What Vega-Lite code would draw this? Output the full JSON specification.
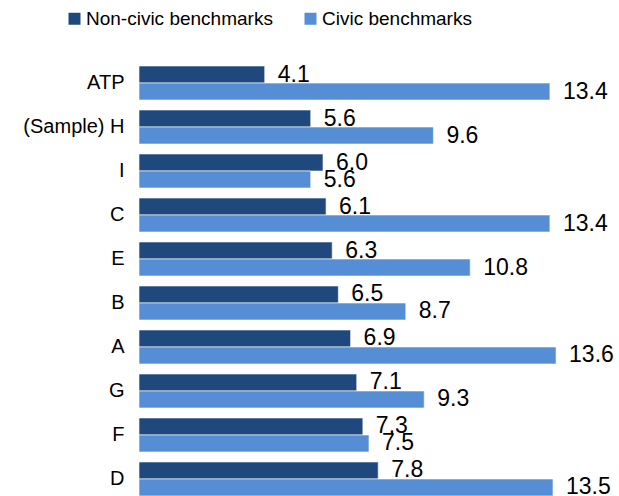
{
  "$schema": "https://vega.github.io/schema/vega-lite/v6.json",
  "width": 460,
  "height": 440,
  "autosize": {"type": "none"},
  "padding": {"left": 139, "top": 61, "right": 20, "bottom": 0},
  "config": {"view": {"stroke": null}, "font": "Liberation Sans"},
  "data": {
    "values": [
      {"cat": "ATP", "series": "Non-civic benchmarks", "value": 4.1},
      {"cat": "ATP", "series": "Civic benchmarks", "value": 13.4},
      {"cat": "(Sample) H", "series": "Non-civic benchmarks", "value": 5.6},
      {"cat": "(Sample) H", "series": "Civic benchmarks", "value": 9.6},
      {"cat": "I", "series": "Non-civic benchmarks", "value": 6.0},
      {"cat": "I", "series": "Civic benchmarks", "value": 5.6},
      {"cat": "C", "series": "Non-civic benchmarks", "value": 6.1},
      {"cat": "C", "series": "Civic benchmarks", "value": 13.4},
      {"cat": "E", "series": "Non-civic benchmarks", "value": 6.3},
      {"cat": "E", "series": "Civic benchmarks", "value": 10.8},
      {"cat": "B", "series": "Non-civic benchmarks", "value": 6.5},
      {"cat": "B", "series": "Civic benchmarks", "value": 8.7},
      {"cat": "A", "series": "Non-civic benchmarks", "value": 6.9},
      {"cat": "A", "series": "Civic benchmarks", "value": 13.6},
      {"cat": "G", "series": "Non-civic benchmarks", "value": 7.1},
      {"cat": "G", "series": "Civic benchmarks", "value": 9.3},
      {"cat": "F", "series": "Non-civic benchmarks", "value": 7.3},
      {"cat": "F", "series": "Civic benchmarks", "value": 7.5},
      {"cat": "D", "series": "Non-civic benchmarks", "value": 7.8},
      {"cat": "D", "series": "Civic benchmarks", "value": 13.5}
    ]
  },
  "encoding": {
    "y": {
      "field": "cat", "type": "nominal",
      "sort": ["ATP", "(Sample) H", "I", "C", "E", "B", "A", "G", "F", "D"],
      "scale": {"paddingInner": 0.227, "paddingOuter": 0.114},
      "axis": {"title": null, "domain": false, "ticks": false, "labelFontSize": 20, "labelPadding": 15, "labelColor": "#000000"}
    },
    "x": {"field": "value", "type": "quantitative", "scale": {"domain": [0, 15]}, "axis": null},
    "yOffset": {
      "field": "series",
      "sort": ["Non-civic benchmarks", "Civic benchmarks"],
      "scale": {"paddingInner": 0, "paddingOuter": 0}
    }
  },
  "layer": [
    {
      "mark": {"type": "bar", "stroke": "#ffffff", "strokeWidth": 0.6},
      "encoding": {
        "color": {
          "field": "series", "type": "nominal",
          "sort": ["Non-civic benchmarks", "Civic benchmarks"],
          "scale": {"domain": ["Non-civic benchmarks", "Civic benchmarks"], "range": ["#1F497D", "#558ED5"]},
          "legend": {
            "title": null, "orient": "none", "direction": "horizontal",
            "legendX": -74, "legendY": -52,
            "symbolType": "square", "symbolSize": 144, "symbolStrokeWidth": 0,
            "labelFontSize": 19, "labelColor": "#000000", "labelOffset": 2, "labelLimit": 0,
            "columnPadding": 28
          }
        }
      }
    },
    {
      "mark": {"type": "text", "align": "left", "baseline": "middle", "dx": 13, "fontSize": 23, "color": "#000000"},
      "encoding": {"text": {"field": "value", "type": "quantitative", "format": ".1f"}}
    }
  ]
}
